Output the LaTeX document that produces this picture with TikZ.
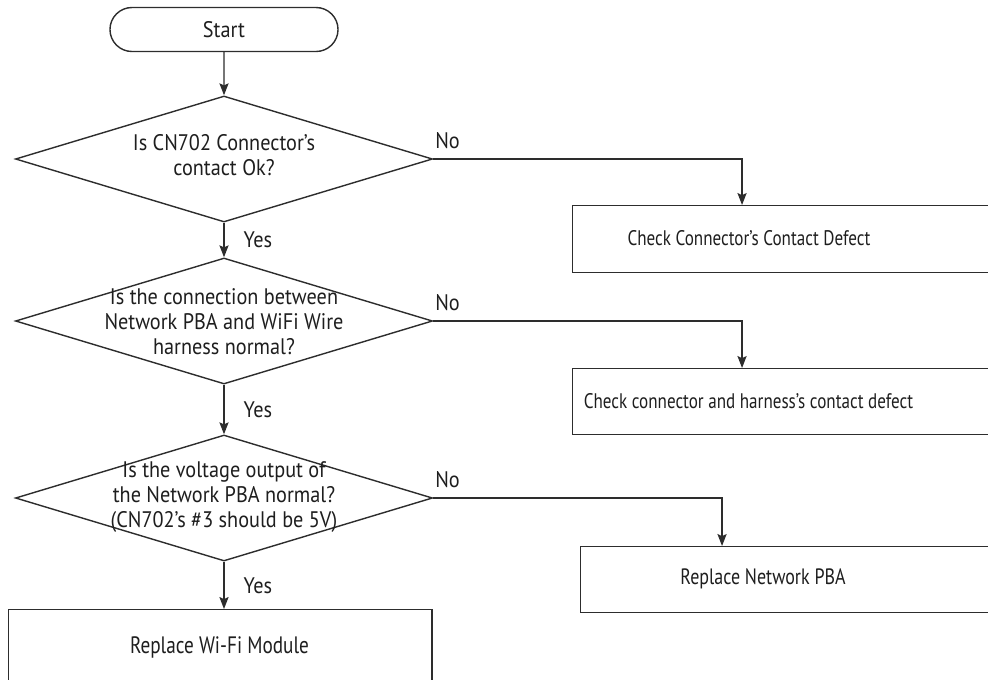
\documentclass[tikz,border=0pt]{standalone}
\usepackage{fontspec}
\setmainfont{PT Sans}[FakeStretch=0.81]
\newfontfamily\qfont{PT Sans}[FakeStretch=0.9]
\usetikzlibrary{arrows.meta,positioning,shapes.geometric,shapes.misc,calc}
\definecolor{fLine}{RGB}{45,45,45}
\definecolor{fText}{RGB}{30,30,30}

\begin{document}
\begin{tikzpicture}[x=0.025cm, y=-0.025cm, font=\qfont\fontsize{16}{17.8}\selectfont, text=fText,
  startbox/.style={draw=fLine, line width=1pt, rounded rectangle, minimum width=5.7cm, minimum height=1.1cm, inner sep=0pt},
  decision/.style={draw=fLine, line width=1pt, diamond, minimum width=10.425cm, minimum height=3.15cm, inner sep=0pt},
  qtext/.style={align=center, inner sep=0pt},
  fixbox/.style={draw=fLine, line width=1pt, anchor=north west, inner sep=0pt, minimum width=11cm, minimum height=1.65cm},
  fixtext/.style={inner sep=0pt, font=\normalfont\fontsize{#1}{17}\selectfont},
  fixtext/.default=15,
  flow/.style={draw=fLine, line width=1pt, -{Stealth[length=8.5pt, width=6.5pt, inset=1.5pt]}},
  yes/.style={anchor=west, inner sep=0pt, xshift=13.5pt},
  no/.style={anchor=south west, inner xsep=1pt, inner ysep=7pt}]
  \useasboundingbox (0,0) rectangle (988,679);
  \clip (0,0) rectangle (988,679);

  % start and the three checks
  \node[startbox] (start) at (224,29.5) {Start};
  \node[decision] (q1) at (224,159) {};
  \node[qtext] (q1t) at (224,155) {Is CN702 Connector’s\\contact Ok?};
  \node[decision] (q2) at (224,321) {};
  \node[qtext] (q2t) at (224,322) {Is the connection between\\Network PBA and WiFi Wire\\harness normal?};
  \node[decision] (q3) at (224,498) {};
  \node[qtext] (q3t) at (224,497) {Is the voltage output of\\the Network PBA normal?\\(CN702’s \#3 should be 5V)};

  % repair boxes (run off the right edge)
  \node[fixbox, minimum height=1.675cm] (fix1) at (572,205) {};
  \node[fixtext] (fix1t) at (749,238.5) {Check Connector’s Contact Defect};
  \node[fixbox] (fix2) at (572,368) {};
  \node[fixtext] (fix2t) at (748.5,401) {Check connector and harness’s contact defect};
  \node[fixbox] (fix3) at (580,546) {};
  \node[fixtext=15.8] (fix3t) at (763,579) {Replace Network PBA};
  \node[fixbox, minimum width=10.575cm, minimum height=1.9cm] (fix4) at (8,609) {};
  \node[fixtext=16.9] (fix4t) at (219.5,647) {Replace Wi-Fi Module};

  % yes path
  \draw[flow] (start) -- (q1);
  \draw[flow] (q1) -- node[yes] (y1) {Yes} (q2);
  \draw[flow] (q2) -- node[yes] (y2) {Yes} (q3);
  \draw[flow] (q3.south) -- node[yes] (y3) {Yes} (q3.south |- fix4.north);

  % no branches
  \draw[flow] (q1.east) node[no] (n1) {No} -| ([xshift=4.25cm]fix1.north west);
  \draw[flow] (q2.east) node[no] (n2) {No} -| ([xshift=4.25cm]fix2.north west);
  \draw[flow] (q3.east) node[no] (n3) {No} -| ([xshift=3.55cm]fix3.north west);
\end{tikzpicture}
\end{document}
